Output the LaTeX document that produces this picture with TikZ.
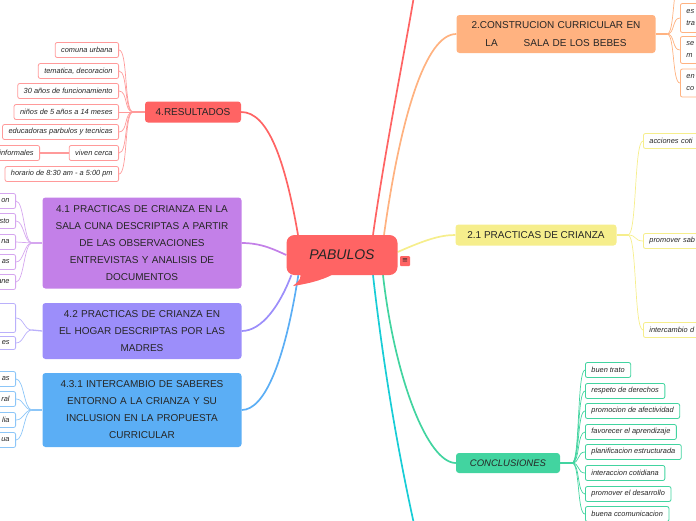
\documentclass[tikz,border=0pt]{standalone}
\usepackage{fontspec}
\setmainfont{Liberation Sans}
\newfontfamily\symfont{DejaVu Sans}
\usetikzlibrary{positioning,calc,backgrounds}
\definecolor{pabred}{HTML}{FF6464}
\definecolor{pabred2}{HTML}{FF9A9A}
\definecolor{pborange}{HTML}{FFB280}
\definecolor{pbyellow}{HTML}{F6EE8C}
\definecolor{pbgreen}{HTML}{42D4A0}
\definecolor{pbcyan}{HTML}{18CDD6}
\definecolor{pbpurple}{HTML}{C380E8}
\definecolor{pbviolet}{HTML}{9C8EFA}
\definecolor{pbblue}{HTML}{5BAEF5}
\definecolor{pbtext}{HTML}{262626}

\begin{document}
\begin{tikzpicture}[
  x=1pt, y=-1pt,
  text=pbtext,
  central/.style={
    fill=pabred,
    rounded corners=8pt,
    minimum width=111pt,
    minimum height=40pt,
    font=\fontsize{14}{16}\selectfont\itshape
  },
  branch/.style={
    fill=#1,
    rounded corners=3pt,
    align=center,
    inner sep=2pt,
    font=\fontsize{10}{17}\selectfont
  },
  leaf/.style={
    draw=#1,
    fill=white,
    rounded corners=2pt,
    line width=0.8pt,
    minimum height=15pt,
    inner xsep=6pt,
    inner ysep=0pt,
    font=\fontsize{7.4}{9}\selectfont\itshape
  },
  stem/.style={draw=#1,line width=1.7pt},
  trunk/.style={draw=#1,line width=1.3pt},
  twig/.style={draw=#1,line width=0.7pt}
]
\useasboundingbox (0,0) rectangle (696,520);

% central topic
\node[central] (pabulos) at (342,255) {PABULOS};
\fill[pabred] (300,272) .. controls (301,279) .. (293,286) .. controls (312,283) and (326,279) .. (337,272) -- cycle;
\node[fill=pabred,rounded corners=1pt,minimum size=10pt,inner sep=0pt,font=\symfont\fontsize{7}{7}\selectfont] (menu) at (405,261) {≡};

% main branches
\node[branch=pabred,minimum width=96pt,minimum height=21pt] (res) at (193,112) {4.RESULTADOS};
\node[branch=pbpurple,minimum width=199pt,minimum height=91pt,text width=192pt] (prsala) at (142,243)
  {4.1 PRACTICAS DE CRIANZA EN LA\\SALA CUNA DESCRIPTAS A PARTIR\\DE LAS OBSERVACIONES\\ENTREVISTAS Y ANALISIS DE\\DOCUMENTOS};
\node[branch=pbviolet,minimum width=199pt,minimum height=56pt,text width=192pt] (prhogar) at (142,331)
  {4.2 PRACTICAS DE CRIANZA EN\\EL HOGAR DESCRIPTAS POR LAS\\MADRES};
\node[branch=pbblue,minimum width=199pt,minimum height=74pt,text width=192pt] (saberes) at (142,410)
  {4.3.1 INTERCAMBIO DE SABERES\\ENTORNO A LA CRIANZA Y SU\\INCLUSION EN LA PROPUESTA\\CURRICULAR};
\node[branch=pborange,minimum width=199pt,minimum height=38pt,text width=192pt,font=\fontsize{10}{18}\selectfont] (constr) at (556,34)
  {2.CONSTRUCION CURRICULAR EN\\LA\hspace{26pt}SALA DE LOS BEBES};
\node[branch=pbyellow,minimum width=161pt,minimum height=21pt] (crianza) at (536,235) {2.1 PRACTICAS DE CRIANZA};
\node[branch=pbgreen,minimum width=104pt,minimum height=20pt,font=\fontsize{9.5}{11}\selectfont\itshape] (concl) at (508,463) {CONCLUSIONES};

\coordinate (topend) at (414,-4);
\coordinate (botend) at (414,524);

\begin{scope}[on background layer]
\draw[stem=pabred] ([xshift=31pt]pabulos.north) .. controls (385,150) and (405,50) .. (topend);
\draw[stem=pabred] ([xshift=-44pt]pabulos.north) .. controls (285,160) and (268,112) .. (res.east);
\draw[stem=pborange] ([xshift=42pt]pabulos.north) .. controls (400,120) and (425,34) .. (constr.west);
\draw[stem=pbyellow] ([yshift=3pt]pabulos.east) .. controls (425,240) and (440,235) .. (crianza.west);
\draw[stem=pbgreen] ([xshift=41pt]pabulos.south) .. controls (395,380) and (428,463) .. (concl.west);
\draw[stem=pbcyan] ([xshift=31pt]pabulos.south) .. controls (385,380) and (400,460) .. (botend);
\draw[stem=pbpurple] (pabulos.west) .. controls (275,250) and (262,243) .. (prsala.east);
\draw[stem=pbviolet] ([xshift=5pt]pabulos.south west) .. controls (280,305) and (262,331) .. (prhogar.east);
\draw[stem=pbblue] ([xshift=12pt]pabulos.south west) .. controls (285,360) and (265,410) .. (saberes.east);
\end{scope}

% 4.RESULTADOS leaves
\coordinate (resfork) at (133,112);
\node[leaf=pabred2,anchor=east] (r1) at (119,50) {comuna urbana};
\node[leaf=pabred2,anchor=east] (r2) at (119,71) {tematica, decoracion};
\node[leaf=pabred2,anchor=east] (r3) at (119,91) {30 años de funcionamiento};
\node[leaf=pabred2,anchor=east] (r4) at (119,112) {niños de 5 años a 14 meses};
\node[leaf=pabred2,anchor=east] (r5) at (119,132) {educadoras parbulos y tecnicas};
\node[leaf=pabred2,anchor=east] (r6) at (119,153) {viven cerca};
\node[leaf=pabred2,anchor=east] (r7) at (119,174) {horario de 8:30 am - a 5:00 pm};
\node[leaf=pabred2,anchor=east] (r6a) at (40,153) {informales};
\draw[trunk=pabred2] (res.west) -- (resfork);
\draw[twig=pabred2] (resfork) .. controls +(-9,0) and +(9,0) .. (r1.east);
\draw[twig=pabred2] (resfork) .. controls +(-9,0) and +(9,0) .. (r2.east);
\draw[twig=pabred2] (resfork) .. controls +(-9,0) and +(9,0) .. (r3.east);
\draw[twig=pabred2] (resfork) -- (r4.east);
\draw[twig=pabred2] (resfork) .. controls +(-9,0) and +(9,0) .. (r5.east);
\draw[twig=pabred2] (resfork) .. controls +(-9,0) and +(9,0) .. (r6.east);
\draw[twig=pabred2] (resfork) .. controls +(-9,0) and +(9,0) .. (r7.east);
\draw[trunk=pabred2] (r6.west) -- (r6a.east);

% 4.1 leaves
\coordinate (salafork) at (32,243);
\node[leaf=pbpurple!70,anchor=east,text width=60pt,align=right] (s1) at (16,201) {on};
\node[leaf=pbpurple!70,anchor=east,text width=60pt,align=right] (s2) at (16,221) {sto};
\node[leaf=pbpurple!70,anchor=east,text width=60pt,align=right] (s3) at (16,242) {na};
\node[leaf=pbpurple!70,anchor=east,text width=60pt,align=right] (s4) at (16,262) {as};
\node[leaf=pbpurple!70,anchor=east,text width=60pt,align=right] (s5) at (16,282) {ane};
\draw[trunk=pbpurple!70] (prsala.west) -- (salafork);
\draw[twig=pbpurple!70] (salafork) .. controls +(-8,0) and +(8,0) .. (s1.east);
\draw[twig=pbpurple!70] (salafork) .. controls +(-8,0) and +(8,0) .. (s2.east);
\draw[twig=pbpurple!70] (salafork) .. controls +(-8,0) and +(8,0) .. (s3.east);
\draw[twig=pbpurple!70] (salafork) .. controls +(-8,0) and +(8,0) .. (s4.east);
\draw[twig=pbpurple!70] (salafork) .. controls +(-8,0) and +(8,0) .. (s5.east);

% 4.2 leaves
\coordinate (hogarfork) at (32,330);
\node[leaf=pbviolet!70,anchor=east,minimum width=70pt,minimum height=29pt] (h1) at (16,318) {};
\node[leaf=pbviolet!70,anchor=east,text width=60pt,align=right,minimum height=13pt] (h2) at (16,343) {es};
\draw[trunk=pbviolet!70] (prhogar.west) -- (hogarfork);
\draw[twig=pbviolet!70] (hogarfork) .. controls +(-8,0) and +(8,0) .. (h1.east);
\draw[twig=pbviolet!70] (hogarfork) .. controls +(-8,0) and +(8,0) .. (h2.east);

% 4.3.1 leaves
\coordinate (saberfork) at (32,410);
\node[leaf=pbblue!70,anchor=east,text width=60pt,align=right] (b1) at (16,379) {as};
\node[leaf=pbblue!70,anchor=east,text width=60pt,align=right] (b2) at (16,399) {ral};
\node[leaf=pbblue!70,anchor=east,text width=60pt,align=right] (b3) at (16,420) {lia};
\node[leaf=pbblue!70,anchor=east,text width=60pt,align=right] (b4) at (16,440) {ua};
\draw[trunk=pbblue!70] (saberes.west) -- (saberfork);
\draw[twig=pbblue!70] (saberfork) .. controls +(-8,0) and +(8,0) .. (b1.east);
\draw[twig=pbblue!70] (saberfork) .. controls +(-8,0) and +(8,0) .. (b2.east);
\draw[twig=pbblue!70] (saberfork) .. controls +(-8,0) and +(8,0) .. (b3.east);
\draw[twig=pbblue!70] (saberfork) .. controls +(-8,0) and +(8,0) .. (b4.east);

% 2.CONSTRUCION leaves
\coordinate (constfork) at (667,34);
\node[leaf=pborange,anchor=west,minimum width=60pt,minimum height=29pt] (c0) at (680,-18) {};
\node[leaf=pborange,anchor=west,text width=60pt,align=left,minimum height=29pt,font=\fontsize{7.4}{12}\selectfont\itshape] (c1) at (680,18) {es\\tra};
\node[leaf=pborange,anchor=west,text width=60pt,align=left,minimum height=27pt,font=\fontsize{7.4}{12}\selectfont\itshape] (c2) at (680,50) {se\\m};
\node[leaf=pborange,anchor=west,text width=60pt,align=left,minimum height=28pt,font=\fontsize{7.4}{12}\selectfont\itshape] (c3) at (680,83) {en\\co};
\draw[trunk=pborange] (constr.east) -- (constfork);
\draw[twig=pborange] (constfork) .. controls +(8,0) and +(-8,0) .. (c0.west);
\draw[twig=pborange] (constfork) .. controls +(8,0) and +(-8,0) .. (c1.west);
\draw[twig=pborange] (constfork) .. controls +(8,0) and +(-8,0) .. (c2.west);
\draw[twig=pborange] (constfork) .. controls +(8,0) and +(-8,0) .. (c3.west);

% 2.1 leaves
\coordinate (criafork) at (628,235);
\node[leaf=pbyellow,anchor=west,text width=80pt,align=left] (y1) at (643,141) {acciones coti};
\node[leaf=pbyellow,anchor=west,text width=80pt,align=left] (y2) at (643,241) {promover sab};
\node[leaf=pbyellow,anchor=west,text width=80pt,align=left] (y3) at (643,330) {intercambio d};
\draw[trunk=pbyellow] (crianza.east) -- (criafork);
\draw[twig=pbyellow] (criafork) .. controls +(9,0) and +(-9,0) .. (y1.west);
\draw[twig=pbyellow] (criafork) .. controls +(9,0) and +(-9,0) .. (y2.west);
\draw[twig=pbyellow] (criafork) .. controls +(9,0) and +(-9,0) .. (y3.west);

% CONCLUSIONES leaves
\coordinate (conclfork) at (572,463);
\node[leaf=pbgreen,anchor=west] (g1) at (585,370) {buen trato};
\node[leaf=pbgreen,anchor=west] (g2) at (585,391) {respeto de derechos};
\node[leaf=pbgreen,anchor=west] (g3) at (585,411) {promocion de afectividad};
\node[leaf=pbgreen,anchor=west] (g4) at (585,432) {favorecer el aprendizaje};
\node[leaf=pbgreen,anchor=west] (g5) at (585,452) {planificacion estructurada};
\node[leaf=pbgreen,anchor=west] (g6) at (585,473) {interaccion cotidiana};
\node[leaf=pbgreen,anchor=west] (g7) at (585,494) {promover el desarrollo};
\node[leaf=pbgreen,anchor=west] (g8) at (585,514) {buena ccomunicacion};
\draw[trunk=pbgreen] (concl.east) -- (conclfork);
\draw[twig=pbgreen] (conclfork) .. controls +(8,0) and +(-8,0) .. (g1.west);
\draw[twig=pbgreen] (conclfork) .. controls +(8,0) and +(-8,0) .. (g2.west);
\draw[twig=pbgreen] (conclfork) .. controls +(8,0) and +(-8,0) .. (g3.west);
\draw[twig=pbgreen] (conclfork) .. controls +(8,0) and +(-8,0) .. (g4.west);
\draw[twig=pbgreen] (conclfork) .. controls +(8,0) and +(-8,0) .. (g5.west);
\draw[twig=pbgreen] (conclfork) .. controls +(8,0) and +(-8,0) .. (g6.west);
\draw[twig=pbgreen] (conclfork) .. controls +(8,0) and +(-8,0) .. (g7.west);
\draw[twig=pbgreen] (conclfork) .. controls +(8,0) and +(-8,0) .. (g8.west);
\end{tikzpicture}
\end{document}
